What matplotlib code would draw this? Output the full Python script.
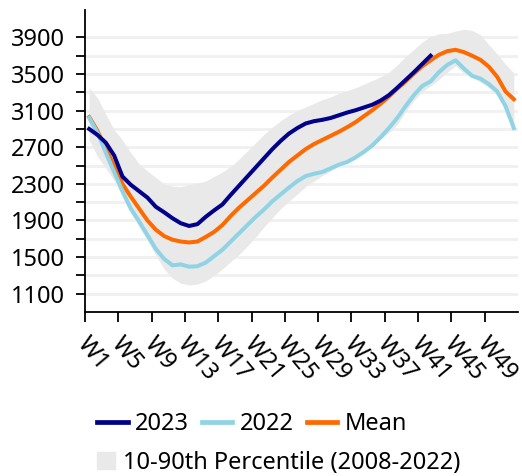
import numpy as np
import matplotlib.pyplot as plt
from matplotlib.lines import Line2D
from matplotlib.patches import Patch
from matplotlib.transforms import ScaledTranslation

plt.rcParams['font.family'] = ['Noto Sans', 'DejaVu Sans']

# week categories W1..W52
weeks = [f'W{n}' for n in range(1, 53)]

# values
y2023 = [2900, 2835, 2750, 2610, 2380, 2290, 2220, 2150, 2050, 1990,
         1925, 1870, 1840, 1860, 1940, 2010, 2075, 2180, 2280, 2380,
         2480, 2580, 2680, 2770, 2850, 2910, 2960, 2985, 3000, 3020,
         3050, 3080, 3105, 3135, 3165, 3210, 3270, 3350, 3435, 3520,
         3610, 3700]
y2022 = [3020, 2860, 2640, 2430, 2220, 2030, 1890, 1740, 1590, 1480,
         1410, 1420, 1395, 1400, 1440, 1510, 1580, 1670, 1760, 1850,
         1940, 2020, 2110, 2185, 2260, 2330, 2385, 2410, 2430, 2470,
         2510, 2540, 2590, 2650, 2720, 2810, 2910, 3020, 3150, 3270,
         3370, 3420, 3520, 3600, 3650, 3560, 3480, 3450, 3390, 3310,
         3150, 2910]
mean = [3030, 2880, 2680, 2500, 2300, 2160, 2030, 1900, 1800, 1730,
        1690, 1670, 1660, 1670, 1720, 1775, 1850, 1950, 2040, 2120,
        2200, 2280, 2370, 2455, 2540, 2610, 2680, 2735, 2780, 2825,
        2870, 2920, 2975, 3040, 3105, 3175, 3255, 3340, 3420, 3505,
        3585, 3650, 3710, 3750, 3765, 3740, 3700, 3655, 3580, 3470,
        3310, 3225]
p10 = [2780, 2600, 2470, 2340, 2160, 1980, 1830, 1680, 1520, 1370,
       1270, 1215, 1195, 1205, 1240, 1300, 1370, 1450, 1530, 1620,
       1720, 1830, 1930, 2030, 2110, 2190, 2270, 2330, 2390, 2440,
       2500, 2550, 2600, 2650, 2710, 2790, 2860, 2950, 3090, 3210,
       3310, 3370, 3440, 3520, 3590, 3510, 3460, 3410, 3350, 3270,
       3120, 2900]
p90 = [3350, 3240, 3060, 2890, 2780, 2640, 2520, 2440, 2370, 2300,
       2275, 2270, 2290, 2310, 2330, 2380, 2430, 2490, 2570, 2660,
       2750, 2840, 2920, 2990, 3050, 3100, 3140, 3180, 3220, 3250,
       3290, 3320, 3350, 3390, 3430, 3470, 3520, 3600, 3690, 3770,
       3850, 3910, 3940, 3945, 3970, 3990, 3975, 3930, 3820, 3720,
       3610, 3510]

c2023 = '#00008b'
c2022 = '#8fd3e4'
cmean = '#ff6a00'
cband = '#e9e9e9'
fs = 17

fig = plt.figure(figsize=(5.22, 4.76), dpi=100)
ax = fig.add_axes([85 / 522, 1 - 312 / 476, 433 / 522, 302 / 476])

x = np.arange(len(weeks)) + 0.5
ax.fill_between(x, p10, p90, color=cband, lw=0, zorder=1)
ax.plot(x[:len(mean)], mean, color=cmean, lw=2.9, zorder=3)
ax.plot(x[:len(y2022)], y2022, color=c2022, lw=2.9, zorder=4)
ax.plot(x[:len(y2023)], y2023, color=c2023, lw=2.9, zorder=5)

ax.set_xlim(0, 52)
ax.set_ylim(900, 4200)
ax.set_yticks(range(1100, 4000, 400))
ax.set_yticks(range(1300, 3800, 400), minor=True)

# x tick labels drawn by hand so they can sit slightly right of the tick
xt = list(range(0, 52, 4))
ax.set_xticks(xt)
ax.set_xticklabels([])
off = ax.get_xaxis_transform() + ScaledTranslation(0.06, -0.2, fig.dpi_scale_trans)
for p, lab in zip(xt, weeks[::4]):
    ax.text(p, 0, lab, transform=off, rotation=-50, ha='left', va='top',
            rotation_mode='anchor', fontsize=fs)

ax.set_axisbelow(True)
ax.grid(axis='y', which='both', color='#f0f0f0', lw=2)
ax.grid(axis='x', visible=False)

for s in ['top', 'right']:
    ax.spines[s].set_visible(False)
for s in ['left', 'bottom']:
    ax.spines[s].set_linewidth(1.3)

ax.tick_params(axis='y', which='both', length=6.5, width=1.3, labelsize=fs, pad=8)
ax.tick_params(axis='x', length=7.2, width=1.3)

h_lines = [Line2D([], [], color=c2023, lw=3.4),
           Line2D([], [], color=c2022, lw=3.4),
           Line2D([], [], color=cmean, lw=3.4)]
fig.legend(h_lines, ['2023', '2022', 'Mean'], loc='center left',
           bbox_to_anchor=(97 / 522, 1 - 424 / 476), ncol=3, frameon=False,
           fontsize=fs, handlelength=1.3, handletextpad=0.3,
           columnspacing=0.55, borderpad=0, borderaxespad=0)
fig.legend([Patch(color=cband)], ['10-90th Percentile (2008-2022)'],
           loc='center left', bbox_to_anchor=(97 / 522, 1 - 463 / 476),
           frameon=False, fontsize=fs, handlelength=0.75, handleheight=0.75,
           handletextpad=0.35, borderpad=0, borderaxespad=0)

fig.savefig('out.png', dpi=100, facecolor='white')
